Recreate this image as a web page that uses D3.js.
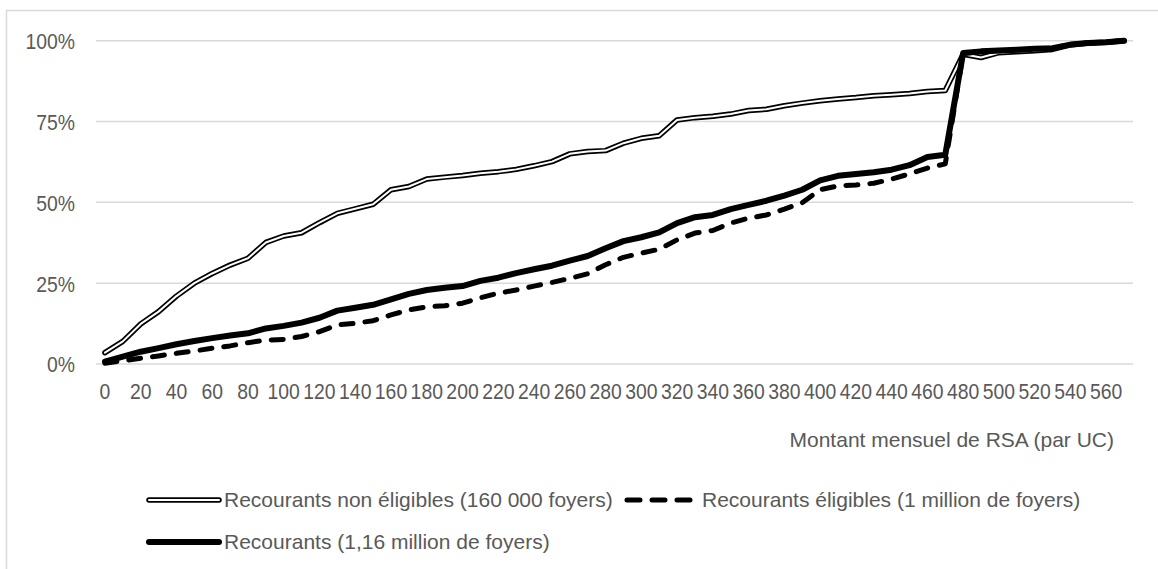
<!DOCTYPE html>
<html>
<head>
<meta charset="utf-8">
<script src="https://cdn.jsdelivr.net/npm/d3@7"></script>
<style>
  html, body { margin: 0; padding: 0; background: #fff; }
  svg { display: block; }
  text { font-family: "Liberation Sans", Arial, sans-serif; fill: #595959; }
</style>
</head>
<body>
<svg id="chart" width="1158" height="569"></svg>
<script>
const categories = [0,10,20,30,40,50,60,70,80,90,100,110,120,130,140,150,160,170,180,190,
  200,210,220,230,240,250,260,270,280,290,300,310,320,330,340,350,360,370,380,390,
  400,410,420,430,440,450,460,470,480,490,500,510,520,530,540,550,560,570];

const nonEligible = [3.5, 7, 12.4, 16.2, 21, 25, 28, 30.6, 32.7, 37.6,
  39.6, 40.6, 43.7, 46.6, 48, 49.4, 53.9, 54.9, 57.2, 57.8,
  58.3, 59, 59.5, 60.2, 61.3, 62.6, 65, 65.7, 66, 68.3,
  69.8, 70.6, 75.5, 76.2, 76.6, 77.3, 78.4, 78.8, 79.9, 80.7,
  81.4, 82, 82.4, 83, 83.3, 83.7, 84.3, 84.6, 95.8, 94.8,
  96.3, 96.6, 96.9, 97.3, 98.7, 99.3, 99.5, 100];

const eligible = [0.2, 1, 1.8, 2.5, 3.3, 4, 4.9, 5.6, 6.6, 7.4,
  7.6, 8.5, 10, 12.1, 12.6, 13.4, 15.2, 16.7, 17.7, 18,
  18.8, 20.5, 21.9, 22.9, 24.1, 25.2, 26.5, 27.9, 30.7, 33,
  34.3, 35.5, 38.4, 40.5, 41.3, 43.6, 45.1, 46.1, 47.9, 49.9,
  53.9, 55.1, 55.4, 55.9, 57.2, 58.8, 60.6, 61.9, 96.1, 96.6,
  96.9, 97.1, 97.4, 97.7, 98.8, 99.3, 99.5, 100];

const total = [0.7, 2.3, 3.8, 4.9, 6.1, 7.1, 8, 8.8, 9.5, 11,
  11.8, 12.8, 14.3, 16.5, 17.4, 18.3, 20, 21.7, 22.9, 23.6,
  24.1, 25.7, 26.7, 28.1, 29.3, 30.4, 32, 33.4, 35.8, 38,
  39.2, 40.7, 43.6, 45.4, 46.1, 47.9, 49.2, 50.5, 52.1, 53.9,
  56.8, 58.2, 58.8, 59.3, 60.1, 61.5, 64, 64.7, 96.2, 96.7,
  97, 97.2, 97.5, 97.7, 98.8, 99.3, 99.5, 100];

const yTicks = [0, 25, 50, 75, 100];
const xTickLabels = categories.filter((c, i) => i % 2 === 0);

const seriesNames = [
  "Recourants non éligibles (160 000 foyers)",
  "Recourants éligibles (1 million de foyers)",
  "Recourants (1,16 million de foyers)"
];
const xTitle = "Montant mensuel de RSA (par UC)";

const svg = d3.select("#chart");
const fontSize = 21;

// outer chart border (only top/left visible)
svg.append("rect")
  .attr("x", 6.5).attr("y", 10.5).attr("width", 1300).attr("height", 700)
  .attr("fill", "none").attr("stroke", "#d9d9d9").attr("stroke-width", 1.5);

const x = d3.scaleBand().domain(categories).range([96, 1133]).padding(0);
const y = d3.scaleLinear().domain([0, 100]).range([364, 40.7]);
const cx = c => x(c) + x.bandwidth() / 2;

// gridlines
svg.append("g").selectAll("line").data(yTicks).join("line")
  .attr("x1", 96).attr("x2", 1133)
  .attr("y1", d => y(d)).attr("y2", d => y(d))
  .attr("stroke", "#d9d9d9").attr("stroke-width", 1.5);

// y axis labels
const yAxis = d3.axisLeft(y).tickValues(yTicks).tickFormat(d => d + "%").tickSize(0).tickPadding(0);
const gy = svg.append("g").attr("transform", "translate(75,0)").call(yAxis);
gy.select(".domain").remove();
gy.selectAll("text").attr("font-size", 22).attr("fill", "#595959")
  .attr("font-family", "'Liberation Sans', Arial, sans-serif").attr("dy", "0.36em")
  .each(function() {
    const w = this.getComputedTextLength();
    d3.select(this).attr("textLength", w * 0.88).attr("lengthAdjust", "spacingAndGlyphs");
  });

// x axis labels
const xAxis = d3.axisBottom(x).tickValues(xTickLabels).tickSize(0).tickPadding(0);
const gx = svg.append("g").attr("transform", "translate(0,384)").call(xAxis);
gx.select(".domain").remove();
gx.selectAll("text").attr("font-size", 22).attr("fill", "#595959")
  .attr("font-family", "'Liberation Sans', Arial, sans-serif").attr("dy", "0.7em")
  .each(function() {
    const w = this.getComputedTextLength();
    d3.select(this).attr("textLength", w * 0.88).attr("lengthAdjust", "spacingAndGlyphs");
  });

// x title
svg.append("text").attr("x", 1114).attr("y", 447).attr("text-anchor", "end")
  .attr("font-size", fontSize).text(xTitle);

const line = d3.line().x((d, i) => cx(categories[i])).y(d => y(d)).curve(d3.curveLinear);

// non-eligible: double line
svg.append("path").datum(nonEligible).attr("d", line)
  .attr("fill", "none").attr("stroke", "#000").attr("stroke-width", 5.5)
  .attr("stroke-linejoin", "round").attr("stroke-linecap", "round");
svg.append("path").datum(nonEligible).attr("d", line)
  .attr("fill", "none").attr("stroke", "#fff").attr("stroke-width", 2)
  .attr("stroke-linejoin", "round").attr("stroke-linecap", "round");

// eligible: dashed
svg.append("path").datum(eligible).attr("d", line)
  .attr("fill", "none").attr("stroke", "#000").attr("stroke-width", 5)
  .attr("stroke-dasharray", "12,12").attr("stroke-linejoin", "round").attr("stroke-linecap", "round");

// total: thick solid
svg.append("path").datum(total).attr("d", line)
  .attr("fill", "none").attr("stroke", "#000").attr("stroke-width", 6)
  .attr("stroke-linejoin", "round").attr("stroke-linecap", "round");

// legend
const legendItems = [
  { name: seriesNames[0], x: 149, y: 500, type: "double" },
  { name: seriesNames[1], x: 624, y: 500, type: "dash" },
  { name: seriesNames[2], x: 149, y: 542, type: "solid" }
];
const lg = svg.append("g");
legendItems.forEach(it => {
  const x1 = it.x, x2 = it.x + 70;
  if (it.type === "double") {
    lg.append("line").attr("x1", x1).attr("x2", x2).attr("y1", it.y).attr("y2", it.y)
      .attr("stroke", "#000").attr("stroke-width", 5.5).attr("stroke-linecap", "round");
    lg.append("line").attr("x1", x1).attr("x2", x2).attr("y1", it.y).attr("y2", it.y)
      .attr("stroke", "#fff").attr("stroke-width", 2).attr("stroke-linecap", "round");
  } else if (it.type === "dash") {
    lg.append("line").attr("x1", x1 + 3).attr("x2", x2).attr("y1", it.y).attr("y2", it.y)
      .attr("stroke", "#000").attr("stroke-width", 5).attr("stroke-dasharray", "13,12")
      .attr("stroke-linecap", "round");
  } else {
    lg.append("line").attr("x1", x1).attr("x2", x2).attr("y1", it.y).attr("y2", it.y)
      .attr("stroke", "#000").attr("stroke-width", 6).attr("stroke-linecap", "round");
  }
  lg.append("text").attr("x", it.type === "dash" ? x2 + 8 : x2 + 5).attr("y", it.y)
    .attr("dy", "0.35em").attr("font-size", fontSize).text(it.name);
});
</script>
</body>
</html>
